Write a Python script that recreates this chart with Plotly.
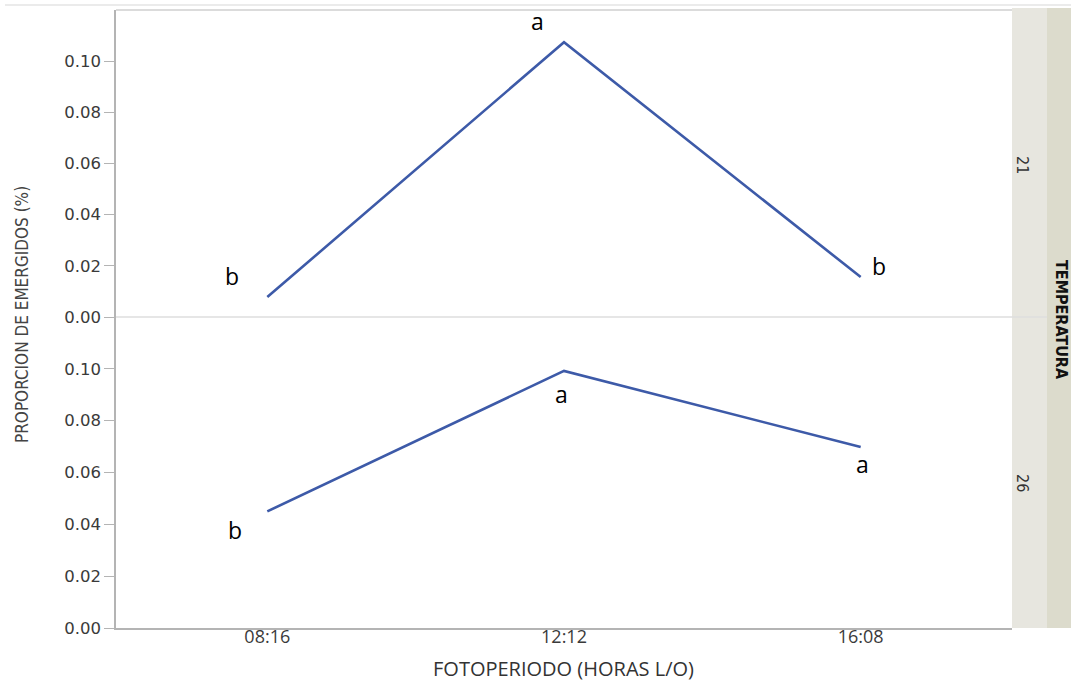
import plotly.graph_objects as go

# Photoperiod treatments (light/dark hours)
fotoperiodo = ["08:16", "12:12", "16:08"]

# Proportion of emerged adults per temperature
prop_21 = [0.0078, 0.1074, 0.0156]
prop_26 = [0.0450, 0.0992, 0.0698]

# Significance letters per point
letras_21 = ["b", "a", "b"]
letras_26 = ["b", "a", "a"]

y_ticks = [0.00, 0.02, 0.04, 0.06, 0.08, 0.10]
y_tick_text = ["0.00", "0.02", "0.04", "0.06", "0.08", "0.10"]

W, H = 1071, 683
LINE = "#3d5aa8"


def px_x(p):
    return p / W


def px_y(p):
    return 1 - p / H


left, right = 116, 1012
top, mid, bottom = 10, 317, 628

fig = go.Figure()
fig.add_trace(go.Scatter(x=fotoperiodo, y=prop_21, mode="lines",
                         line=dict(color=LINE, width=2.6),
                         xaxis="x", yaxis="y", showlegend=False))
fig.add_trace(go.Scatter(x=fotoperiodo, y=prop_26, mode="lines",
                         line=dict(color=LINE, width=2.6),
                         xaxis="x2", yaxis="y2", showlegend=False))

tick_font = dict(family="DejaVu Sans", size=16.5, color="#3a3a3a")
common_y = dict(range=[0, 0.12], tickvals=y_ticks, ticktext=y_tick_text,
                showgrid=False, zeroline=False, showline=True,
                linecolor="#b4b4b4", linewidth=1.5, ticks="outside",
                ticklen=10, tickcolor="#b4b4b4", tickfont=tick_font,
                automargin=False)
common_x = dict(type="category", range=[-0.51, 2.51], showgrid=False,
                zeroline=False, automargin=False)

fig.update_layout(
    width=W, height=H,
    margin=dict(l=0, r=0, t=0, b=0),
    paper_bgcolor="white", plot_bgcolor="white",
    xaxis=dict(**common_x, domain=[px_x(left), px_x(right)], anchor="y",
               showticklabels=False, showline=False),
    yaxis=dict(**common_y, domain=[px_y(mid), px_y(top)], anchor="x"),
    xaxis2=dict(**common_x, domain=[px_x(left), px_x(right)], anchor="y2",
                showline=True, linecolor="#b4b4b4", linewidth=1.5,
                ticks="", ticklabelstandoff=-8,
                tickfont=dict(family="Open Sans", size=18, color="#3a3a3a")),
    yaxis2=dict(**common_y, domain=[px_y(bottom), px_y(mid)], anchor="x2"),
)

# Letters placed next to each point
off_21 = [(-35, 21), (-27, 21), (18, 11)]
off_26 = [(-32, -19), (-3, -23), (2, -17)]
for xs, ys, labs, offs, ax, ay in [
    (fotoperiodo, prop_21, letras_21, off_21, "x", "y"),
    (fotoperiodo, prop_26, letras_26, off_26, "x2", "y2"),
]:
    for xv, yv, lab, (dx, dy) in zip(xs, ys, labs, offs):
        fig.add_annotation(x=xv, y=yv, xref=ax, yref=ay, text=lab,
                           showarrow=False, xshift=dx, yshift=dy,
                           font=dict(family="Open Sans", size=23, color="black"))

# Axis titles
fig.add_annotation(x=px_x(22), y=px_y(315), xref="paper", yref="paper",
                   xanchor="center", yanchor="middle",
                   text="PROPORCION DE EMERGIDOS (%)", textangle=-90,
                   showarrow=False,
                   font=dict(family="DejaVu Sans Condensed", size=17, color="#444444"))
fig.add_annotation(x=px_x(563), y=px_y(668), xref="paper", yref="paper",
                   xanchor="center", yanchor="middle",
                   text="FOTOPERIODO (HORAS L/O)", showarrow=False,
                   font=dict(family="Open Sans", size=20, color="#333333"))

shapes = [
    # outer top rule
    dict(type="line", xref="paper", yref="paper", x0=px_x(5), x1=1,
         y0=px_y(5), y1=px_y(5), line=dict(color="#e4e4e4", width=1.5)),
    # panel top border
    dict(type="line", xref="paper", yref="paper", x0=px_x(left), x1=px_x(right),
         y0=px_y(top), y1=px_y(top), line=dict(color="#cfcfcf", width=1.5)),
    # facet strips
    dict(type="rect", xref="paper", yref="paper", x0=px_x(right), x1=px_x(1047),
         y0=px_y(bottom), y1=px_y(8), fillcolor="#e7e6df", line=dict(width=0),
         layer="below"),
    dict(type="rect", xref="paper", yref="paper", x0=px_x(1047), x1=1,
         y0=px_y(bottom), y1=px_y(8), fillcolor="#dcdbcc", line=dict(width=0),
         layer="below"),
    # divider between panels
    dict(type="line", xref="paper", yref="paper", x0=px_x(left), x1=px_x(1047),
         y0=px_y(mid), y1=px_y(mid), line=dict(color="#dedede", width=1.5)),
]
fig.update_layout(shapes=shapes)

# Strip labels
for txt, yc in [("21", 165), ("26", 483)]:
    fig.add_annotation(x=px_x(1023), y=px_y(yc), xref="paper", yref="paper",
                       xanchor="center", yanchor="middle",
                       text=txt, textangle=90, showarrow=False,
                       font=dict(family="DejaVu Sans Condensed", size=16, color="#333333"))
fig.add_annotation(x=px_x(1062), y=px_y(320), xref="paper", yref="paper",
                   xanchor="center", yanchor="middle",
                   text="<b>TEMPERATURA</b>", textangle=90, showarrow=False,
                   font=dict(family="DejaVu Sans Condensed", size=16, color="#111111"))

fig.write_html("out.html")
